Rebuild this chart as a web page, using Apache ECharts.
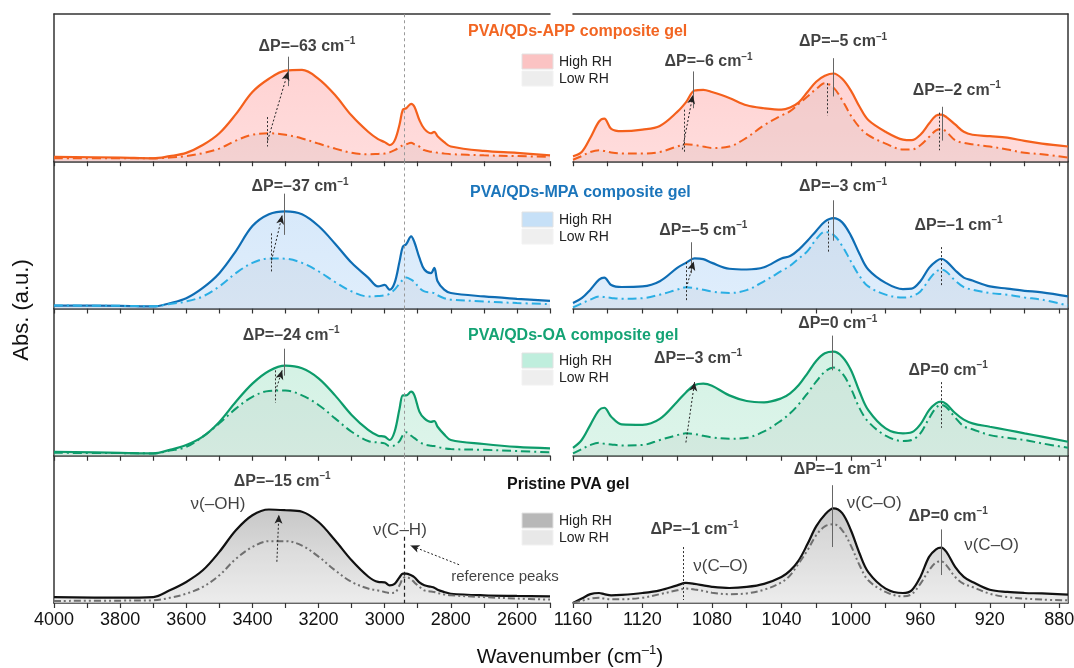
<!DOCTYPE html>
<html>
<head>
<meta charset="utf-8">
<title>FTIR spectra, high / low RH</title>
<script src="https://cdn.jsdelivr.net/npm/echarts@6/dist/echarts.min.js"></script>
<style>
  html, body { margin: 0; padding: 0; background: #fff; }
  #chart { width: 1074px; height: 668px; }
</style>
</head>
<body>
<div id="chart"></div>
<script>
// wavenumber samples (cm-1)
const leftWavenumbers = [
  4000, 3800, 3700, 3650, 3600, 3550, 3500,
  3450, 3400, 3350, 3300, 3250, 3200, 3150,
  3100, 3050, 3020, 3000, 2985, 2970, 2955,
  2945, 2935, 2920, 2910, 2895, 2880, 2860,
  2850, 2840, 2820, 2800, 2700, 2600, 2500];
const rightWavenumbers = [
  1160, 1155, 1150, 1145, 1142, 1138, 1132, 1120, 1110,
  1100, 1095, 1090, 1085, 1080, 1070, 1060, 1050, 1040,
  1035, 1030, 1025, 1020, 1015, 1010, 1005, 1000, 995,
  990, 980, 970, 965, 960, 955, 951, 948, 945,
  940, 935, 930, 920, 910, 900, 890, 875];

// absorbance, fraction of panel height
const appHighLeft = [
  .03, .025, .02, .035, .057, .11, .19,
  .32, .47, .56, .615, .62, .56, .45,
  .31, .20, .15, .13, .11, .14, .25,
  .35, .36, .39, .37, .28, .22, .19,
  .20, .17, .13, .10, .07, .057, .04];
const appLowLeft = [
  .02, .02, .02, .025, .035, .055, .086,
  .14, .18, .19, .18, .155, .12, .086,
  .057, .048, .05, .052, .06, .075, .095,
  .11, .115, .125, .115, .10, .075, .065,
  .063, .058, .052, .048, .04, .035, .03];
const mpaHighLeft = [
  .02, .018, .014, .036, .07, .14, .24,
  .39, .56, .64, .66, .64, .56, .44,
  .31, .21, .15, .16, .128, .174, .32,
  .42, .436, .49, .45, .345, .265, .24,
  .276, .185, .128, .105, .082, .066, .052];
const mpaLowLeft = [
  .02, .018, .015, .03, .048, .082, .15,
  .24, .31, .34, .338, .31, .253, .18,
  .116, .082, .085, .089, .10, .128, .17,
  .195, .21, .196, .18, .14, .116, .108,
  .105, .09, .07, .06, .048, .037, .03];
const oaHighLeft = [
  .027, .02, .016, .04, .073, .13, .23,
  .367, .49, .576, .612, .594, .526, .41,
  .277, .175, .136, .13, .107, .163, .32,
  .41, .41, .435, .41, .30, .254, .23,
  .236, .197, .145, .107, .08, .06, .05];
const oaLowLeft = [
  .02, .018, .016, .035, .06, .13, .22,
  .32, .40, .44, .443, .41, .345, .254,
  .163, .10, .09, .084, .065, .07, .10,
  .14, .16, .136, .12, .095, .077, .068,
  .066, .06, .05, .045, .04, .032, .023];
const pvaHighLeft = [
  .04, .036, .04, .086, .143, .222, .347,
  .494, .596, .635, .63, .62, .55, .426,
  .29, .18, .143, .14, .12, .13, .175,
  .2, .2, .188, .175, .14, .12, .11,
  .104, .09, .075, .063, .052, .048, .045];
const pvaLowLeft = [
  .014, .016, .018, .035, .063, .109, .188,
  .30, .38, .42, .42, .39, .315, .222,
  .143, .098, .085, .075, .068, .07, .12,
  .166, .177, .16, .14, .11, .086, .078,
  .075, .068, .058, .052, .04, .03, .023];

const appHighRight = [
  .034, .063, .16, .27, .29, .22, .204, .215, .24,
  .335, .40, .48, .485, .47, .43, .38, .36, .35,
  .365, .40, .47, .54, .58, .596, .56, .48, .37,
  .28, .20, .147, .143, .18, .256, .31, .317, .30,
  .25, .20, .18, .17, .16, .138, .12, .10];
const appLowRight = [
  .01, .035, .063, .075, .07, .06, .053, .052, .063,
  .10, .115, .11, .10, .09, .10, .16, .245, .31,
  .34, .39, .44, .49, .53, .50, .415, .31, .23,
  .177, .12, .08, .08, .109, .165, .21, .22, .20,
  .143, .125, .115, .10, .08, .057, .048, .025];
const mpaHighRight = [
  .037, .07, .128, .196, .21, .16, .146, .15, .185,
  .276, .31, .34, .335, .31, .27, .265, .28, .34,
  .356, .40, .46, .527, .59, .614, .585, .495, .37,
  .265, .174, .132, .135, .185, .276, .32, .338, .32,
  .26, .21, .19, .15, .135, .12, .11, .082];
const mpaLowRight = [
  .007, .035, .06, .082, .078, .072, .066, .07, .094,
  .128, .144, .138, .128, .115, .105, .125, .185, .255,
  .29, .34, .39, .47, .52, .50, .425, .32, .22,
  .15, .094, .075, .082, .116, .196, .25, .265, .25,
  .19, .145, .128, .105, .094, .075, .06, .02];
const oaHighRight = [
  .054, .107, .21, .31, .326, .265, .213, .21, .25,
  .367, .43, .48, .49, .476, .41, .372, .363, .39,
  .424, .48, .56, .644, .696, .707, .673, .583, .435,
  .31, .186, .152, .159, .213, .31, .356, .367, .35,
  .29, .245, .22, .197, .175, .152, .13, .095];
const oaLowRight = [
  .016, .045, .073, .088, .082, .077, .07, .073, .107,
  .14, .152, .148, .136, .125, .115, .122, .165, .24,
  .288, .35, .424, .503, .571, .599, .56, .458, .322,
  .231, .136, .10, .107, .152, .254, .325, .345, .33,
  .26, .20, .18, .14, .122, .107, .084, .054];
const pvaHighRight = [
  0, .03, .06, .068, .06, .052, .055, .068, .086,
  .12, .136, .13, .12, .11, .102, .109, .13, .177,
  .22, .29, .40, .52, .60, .642, .61, .494, .336,
  .21, .098, .068, .086, .177, .313, .365, .376, .347,
  .245, .177, .143, .09, .075, .068, .065, .057];
const pvaLowRight = [
  0, .015, .03, .036, .03, .025, .025, .036, .06,
  .086, .098, .092, .082, .07, .06, .065, .09, .14,
  .188, .27, .358, .46, .52, .535, .494, .39, .256,
  .154, .075, .045, .06, .13, .222, .275, .283, .256,
  .177, .13, .109, .063, .04, .03, .023, .018];

// axis ticks / labels
const leftTicks = [2500, 2600, 2700, 2800, 2900, 3000, 3100, 3200, 3300, 3400, 3500, 3600, 3700, 3800, 3900, 4000];
const leftLabels = [2600, 2800, 3000, 3200, 3400, 3600, 3800, 4000];
const rightTicks = [880, 900, 920, 940, 960, 980, 1000, 1020, 1040, 1060, 1080, 1100, 1120, 1140, 1160];
const rightLabels = [880, 920, 960, 1000, 1040, 1080, 1120, 1160];

const sampleTitles = ['PVA/QDs-APP composite gel', 'PVA/QDs-MPA composite gel', 'PVA/QDs-OA composite gel', 'Pristine PVA gel'];
const referencePeak = 2940;

// peak shift labels: [row, col, wavenumber, height, shift]
const shiftLabels = [
  [0, 0, 3235, 0.78, '–63'], [0, 1, 1082, 0.675, '–6'], [0, 1, 1004.5, 0.81, '–5'], [0, 1, 939, 0.48, '–2'],
  [1, 0, 3256, 0.825, '–37'], [1, 1, 1004.5, 0.825, '–3'], [1, 1, 1085, 0.53, '–5'], [1, 1, 938, 0.565, '–1'],
  [2, 0, 3283, 0.816, '–24'], [2, 1, 1007.6, 0.896, '0'], [2, 1, 1088, 0.66, '–3'], [2, 1, 944, 0.58, '0'],
  [3, 0, 3310, 0.825, '–15'], [3, 1, 1090, 0.497, '–1'], [3, 1, 1007.6, 0.905, '–1'], [3, 1, 944, 0.587, '0']
];
// band assignments: [row, col, wavenumber, height, text]
const bandLabels = [
  [3, 0, 3504, 0.667, 'ν(–OH)'], [3, 0, 2954, 0.497, 'ν(C–H)'],
  [3, 1, 1075, 0.247, 'ν(C–O)'], [3, 1, 986.6, 0.68, 'ν(C–O)'], [3, 1, 919, 0.395, 'ν(C–O)']
];
// peak position marks: [row, col, wavenumber, from, to, style]
const peakMarks = [
  [0, 0, 3292, 0.71, 0.51, 'solid'], [0, 0, 3354, 0.30, 0.10, 'dotted'],
  [0, 1, 1091, 0.61, 0.36, 'solid'], [0, 1, 1096, 0.35, 0.06, 'dotted'],
  [0, 1, 1010, 0.70, 0.44, 'solid'], [0, 1, 1013.4, 0.53, 0.31, 'dotted'],
  [0, 1, 947.6, 0.37, 0.14, 'solid'], [0, 1, 949, 0.33, 0.075, 'dotted'],
  [1, 0, 3305, 0.78, 0.50, 'solid'], [1, 0, 3343, 0.51, 0.25, 'dotted'],
  [1, 1, 1010, 0.735, 0.46, 'solid'], [1, 1, 1013, 0.59, 0.38, 'dotted'],
  [1, 1, 1091.7, 0.45, 0.24, 'solid'], [1, 1, 1094.7, 0.315, 0.055, 'dotted'],
  [1, 1, 948, 0.417, 0.156, 'dotted'],
  [2, 0, 3303, 0.727, 0.544, 'solid'], [2, 0, 3330, 0.58, 0.36, 'dotted'],
  [2, 1, 1010.5, 0.816, 0.58, 'solid'], [2, 1, 948, 0.50, 0.19, 'dotted'],
  [3, 1, 1096.5, 0.38, 0.02, 'dotted'], [3, 1, 1010.5, 0.80, 0.38, 'solid'],
  [3, 1, 948, 0.50, 0.19, 'solid']
];
// shift arrows: [row, col, w1, h1, w2, h2]
const shiftArrows = [
  [0, 0, 3354, 0.14, 3292, 0.61], [0, 1, 1097, 0.08, 1091, 0.45],
  [1, 0, 3342, 0.327, 3310, 0.633], [1, 1, 1094.7, 0.14, 1090.5, 0.32],
  [2, 0, 3330, 0.44, 3310, 0.58], [2, 1, 1095, 0.09, 1090, 0.50],
  [3, 0, 3326, 0.28, 3320, 0.60], [3, 0, 2775, 0.26, 2922, 0.39]
];

const FONT = '"Liberation Sans", Arial, sans-serif';
const ROW_TOP = 14, ROW_H = 147.25;
const cols = [
  { left: 54, width: 496, min: 2500, max: 4000, ticks: leftTicks, labels: leftLabels, xs: leftWavenumbers },
  { left: 573, width: 495, min: 875, max: 1160, ticks: rightTicks, labels: rightLabels, xs: rightWavenumbers }
];
const grad = (a, b) => new echarts.graphic.LinearGradient(0, 0, 0, 1, [{ offset: 0, color: a }, { offset: 1, color: b }]);
const rows = [
  { titleColor: '#f26522', high: '#f4601c', low: '#f4601c', lowDash: [9, 4, 2, 4],
    fill: grad('rgba(255,135,135,0.52)', 'rgba(255,160,160,0.52)'), lowFill: 'rgba(175,150,150,0.22)',
    box: '#fbc3c3', lowBox: '#ededed', curves: [[appHighLeft, appLowLeft], [appHighRight, appLowRight]] },
  { titleColor: '#1b75bb', high: '#0e6db4', low: '#2aaee4', lowDash: [9, 4, 2, 4],
    fill: grad('rgba(130,185,240,0.45)', 'rgba(155,200,245,0.45)'), lowFill: 'rgba(150,160,175,0.18)',
    box: '#c6e0f7', lowBox: '#efefef', curves: [[mpaHighLeft, mpaLowLeft], [mpaHighRight, mpaLowRight]] },
  { titleColor: '#14a374', high: '#0d9c6b', low: '#0d9c6b', lowDash: [9, 4, 2, 4],
    fill: grad('rgba(110,210,165,0.42)', 'rgba(140,220,185,0.42)'), lowFill: 'rgba(140,160,150,0.18)',
    box: '#bfeedd', lowBox: '#eeeeee', curves: [[oaHighLeft, oaLowLeft], [oaHighRight, oaLowRight]] },
  { titleColor: '#111', high: '#111111', low: '#707070', lowDash: [7, 3, 2, 3, 2, 3],
    fill: grad('rgba(150,150,150,0.75)', 'rgba(220,220,220,0.75)'), lowFill: 'rgba(235,235,235,0.35)',
    box: '#b8b8b8', lowBox: '#e8e8e8', curves: [[pvaHighLeft, pvaLowLeft], [pvaHighRight, pvaLowRight]] }
];
const titlePos = [[468, 32], [470, 193], [468, 336], [507, 485]];
const legendTop = [54, 212, 353, 513];

const grids = [], xAxes = [], yAxes = [], series = [], graphics = [];
const frame = { color: '#333', width: 1.5 };

rows.forEach((row, r) => {
  cols.forEach((col, c) => {
    const i = r * 2 + c;
    grids.push({ left: col.left, width: col.width, top: ROW_TOP + r * ROW_H, height: ROW_H, outerBoundsMode: 'none', containLabel: false });
    xAxes.push({
      type: 'value', gridIndex: i, min: col.min, max: col.max, inverse: true, position: 'bottom',
      axisLine: { show: true, onZero: false, lineStyle: frame },
      axisTick: { show: true, inside: false, length: 5, customValues: col.ticks, lineStyle: { color: '#333', width: 1.2 } },
      axisLabel: { show: r === 3, customValues: col.labels, fontSize: 18, color: '#111', margin: 8, fontFamily: FONT,
                   formatter: v => String(v) },
      splitLine: { show: false }
    });
    yAxes.push({
      type: 'value', gridIndex: i, min: 0, max: 1, position: c === 0 ? 'left' : 'right',
      axisLine: { show: true, onZero: false, lineStyle: frame },
      axisTick: { show: false }, axisLabel: { show: false }, splitLine: { show: false }
    });

    const [hi, lo] = row.curves[c];
    series.push({
      type: 'line', xAxisIndex: i, yAxisIndex: i, smooth: 0.35, showSymbol: false, z: 2,
      data: col.xs.map((x, k) => [x, hi[k]]),
      lineStyle: { color: row.high, width: 2.2 }, areaStyle: { color: row.fill }
    });
    series.push({
      type: 'line', xAxisIndex: i, yAxisIndex: i, smooth: 0.35, showSymbol: false, z: 3,
      data: col.xs.map((x, k) => [x, lo[k]]),
      lineStyle: { color: row.low, width: 2, type: row.lowDash }, areaStyle: { color: row.lowFill }
    });

    // annotations
    const notes = [];
    shiftLabels.filter(d => d[0] === r && d[1] === c).forEach(d => {
      notes.push({ value: [d[2], d[3]], text: '{a|ΔP=' + d[4] + ' cm}{s|–1}' });
    });
    bandLabels.filter(d => d[0] === r && d[1] === c).forEach(d => {
      notes.push({ value: [d[2], d[3]], text: '{n|' + d[4] + '}' });
    });
    if (r === 3 && c === 0) {
      notes.push({ value: [2799, 0.18], text: '{r|reference peaks}', label: { align: 'left' } });
    }
    const lines = [];
    peakMarks.filter(d => d[0] === r && d[1] === c).forEach(d => {
      const st = d[5] === 'solid'
        ? { color: '#666', width: 1, type: 'solid' }
        : { color: '#333', width: 1, type: [2, 2] };
      lines.push([{ coord: [d[2], d[3]], lineStyle: st }, { coord: [d[2], d[4]] }]);
    });
    shiftArrows.filter(d => d[0] === r && d[1] === c).forEach(d => {
      lines.push([{ coord: [d[2], d[3]], symbol: 'none', lineStyle: { color: '#222', width: 1, type: [2, 2] } },
                  { coord: [d[4], d[5]], symbol: 'arrow', symbolSize: [6, 9] }]);
    });
    if (c === 0) {
      if (r < 3) {
        lines.push({ xAxis: referencePeak, lineStyle: { color: '#999', width: 1, type: [3, 3] } });
      } else {
        lines.push([{ coord: [referencePeak, 1], lineStyle: { color: '#999', width: 1, type: [3, 3] } }, { coord: [referencePeak, 0.5] }]);
        lines.push([{ coord: [referencePeak, 0.45], lineStyle: { color: '#222', width: 1.2, type: [4, 3] } }, { coord: [referencePeak, 0] }]);
      }
    }
    series.push({
      type: 'scatter', xAxisIndex: i, yAxisIndex: i, symbolSize: 1, z: 6, silent: true,
      itemStyle: { color: 'rgba(0,0,0,0)' },
      data: notes,
      label: {
        show: true, position: 'inside', fontFamily: FONT,
        formatter: p => p.data.text,
        rich: {
          a: { fontSize: 16, fontWeight: 'bold', color: '#111', lineHeight: 20, fontFamily: FONT },
          s: { fontSize: 10, fontWeight: 'bold', color: '#111', verticalAlign: 'top', lineHeight: 20, fontFamily: FONT },
          n: { fontSize: 17, color: '#111', fontFamily: FONT },
          r: { fontSize: 15, color: '#111', fontFamily: FONT }
        }
      },
      markLine: { silent: true, symbol: ['none', 'none'], animation: false, label: { show: false }, data: lines }
    });
  });

  // title and legend for the row
  graphics.push({
    type: 'text', x: titlePos[r][0], y: titlePos[r][1],
    style: { text: sampleTitles[r], fill: row.titleColor, font: 'bold 16px ' + FONT, verticalAlign: 'middle' }
  });
  const ly = legendTop[r];
  graphics.push({ type: 'rect', shape: { x: 522, y: ly, width: 31, height: 15 }, style: { fill: row.box, stroke: '#e2e2e2', lineWidth: 1 } });
  graphics.push({ type: 'rect', shape: { x: 522, y: ly + 17, width: 31, height: 15 }, style: { fill: row.lowBox, stroke: '#f2f2f2', lineWidth: 1 } });
  graphics.push({ type: 'text', x: 559, y: ly + 8, style: { text: 'High RH', fill: '#222', font: '14px ' + FONT, verticalAlign: 'middle' } });
  graphics.push({ type: 'text', x: 559, y: ly + 25, style: { text: 'Low RH', fill: '#222', font: '14px ' + FONT, verticalAlign: 'middle' } });
});

// top frame line of the first row
cols.forEach((col, c) => {
  xAxes.push({
    type: 'value', gridIndex: c, min: col.min, max: col.max, inverse: true, position: 'top',
    axisLine: { show: true, onZero: false, lineStyle: frame },
    axisTick: { show: false }, axisLabel: { show: false }, splitLine: { show: false }
  });
});

graphics.push({
  type: 'text', x: 22, y: 310, rotation: Math.PI / 2,
  style: { text: 'Abs. (a.u.)', fill: '#111', font: '22px ' + FONT, align: 'center', verticalAlign: 'middle' }
});
graphics.push({
  type: 'text', x: 570, y: 657,
  style: {
    text: '{a|Wavenumber (cm}{s|–1}{a|)}', align: 'center', verticalAlign: 'middle',
    rich: {
      a: { fontSize: 21, fill: '#111', fontFamily: FONT, lineHeight: 26 },
      s: { fontSize: 13, fill: '#111', fontFamily: FONT, verticalAlign: 'top', lineHeight: 26 }
    }
  }
});

const chart = echarts.init(document.getElementById('chart'));
chart.setOption({
  animation: false,
  backgroundColor: '#fff',
  textStyle: { fontFamily: FONT },
  grid: grids,
  xAxis: xAxes,
  yAxis: yAxes,
  series: series,
  graphic: graphics
});
</script>
</body>
</html>
